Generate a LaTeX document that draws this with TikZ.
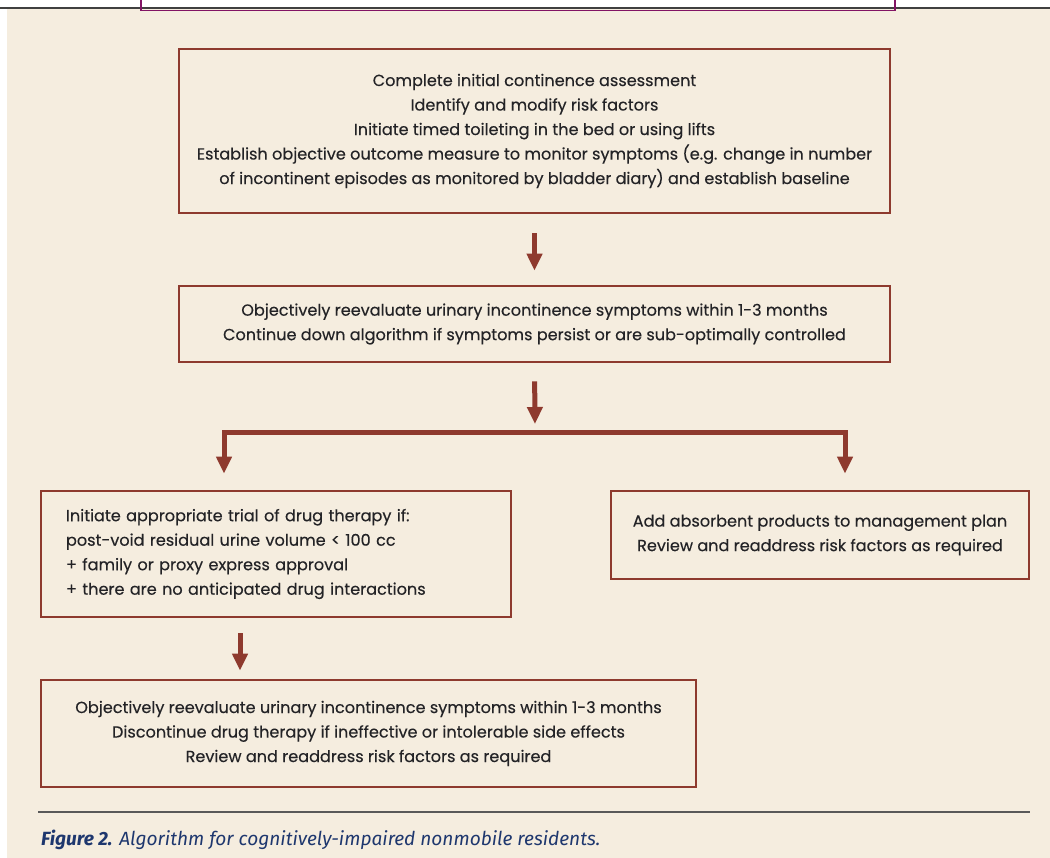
\documentclass[tikz,border=0pt]{standalone}
\usepackage{fontspec}
\setmainfont{Poppins}[FakeBold=0.3]
\newfontfamily\capfont{Fira Sans}
\usetikzlibrary{arrows.meta,calc}
\definecolor{cream}{RGB}{245,237,223}
\definecolor{boxred}{RGB}{142,58,46}
\definecolor{txt}{RGB}{35,35,38}
\definecolor{plum}{RGB}{130,20,100}
\definecolor{navy}{RGB}{30,55,110}
\tikzset{
  box/.style={draw=boxred, line width=2.8pt, align=center, inner sep=0pt,
    text=txt, font=\fontsize{16.1}{24.5}\selectfont},
  arr/.style={draw=boxred, line width=5pt, line join=miter,
    -{Triangle[width=15pt,length=17pt]}},
}
\begin{document}
\begin{tikzpicture}[x=1pt,y=-1pt]
\useasboundingbox (0,0) rectangle (1050,858);
\fill[white] (0,0) rectangle (1050,858);
\fill[cream] (7,9) rectangle (1050,858);
\draw[black!75, line width=2pt] (0,8) -- (1050,8);
\draw[plum, line width=1.6pt] (141,-2) -- (141,10.5) -- (895,10.5) -- (895,-2);
\fill[white] (141.8,0) rectangle (894.2,6.5);

\node[box, minimum width=711pt, minimum height=164pt] (b1) at (534.5,131)
 {Complete initial continence assessment\\
  Identify and modify risk factors\\
  Initiate timed toileting in the bed or using lifts\\
  Establish objective outcome measure to monitor symptoms (e.g. change in number\\
  of incontinent episodes as monitored by bladder diary) and establish baseline};

\node[box, minimum width=711pt, minimum height=76pt] (b2) at (534.5,324)
 {Objectively reevaluate urinary incontinence symptoms within 1-3 months\\
  Continue down algorithm if symptoms persist or are sub-optimally controlled};

\node[box, align=left, text width=420pt, inner xsep=25pt, minimum height=126pt] (b3) at (276,554)
 {Initiate appropriate trial of drug therapy if:\\
  post-void residual urine volume {<} 100 cc\\
  + family or proxy express approval\\
  + there are no anticipated drug interactions};

\node[box, minimum width=418pt, minimum height=88pt] (b4) at (820,535)
 {Add absorbent products to management plan\\
  Review and readdress risk factors as required};

\node[box, minimum width=655pt, minimum height=107pt] (b5) at (368.5,733.5)
 {Objectively reevaluate urinary incontinence symptoms within 1-3 months\\
  Discontinue drug therapy if ineffective or intolerable side effects\\
  Review and readdress risk factors as required};

\coordinate (j) at (535,433);
\draw[arr, shorten <=19pt, shorten >=14pt] (b1.south) -- (b1.south |- b2.north);
\draw[arr, shorten <=18pt] (b2.south) -- ($(j)+(0,-9)$);
\draw[arr, shorten >=16pt] (j) -| ([xshift=-52pt]b3.north);
\draw[arr, shorten >=16pt] (j) -| ([xshift=25pt]b4.north);
\draw[arr, shorten <=15pt, shorten >=8pt] ([xshift=-36pt]b3.south) -- ([xshift=-128.5pt]b5.north);

\draw[black!65, line width=1.5pt] (38,812) -- (1030,812);
\node[anchor=base west, inner sep=0pt, text=navy, font=\capfont\fontsize{19.1}{22}\selectfont] (cap) at (41,845)
 {\textbf{\textit{Figure 2.}} \textit{Algorithm for cognitively-impaired nonmobile residents.}};
\end{tikzpicture}
\end{document}
